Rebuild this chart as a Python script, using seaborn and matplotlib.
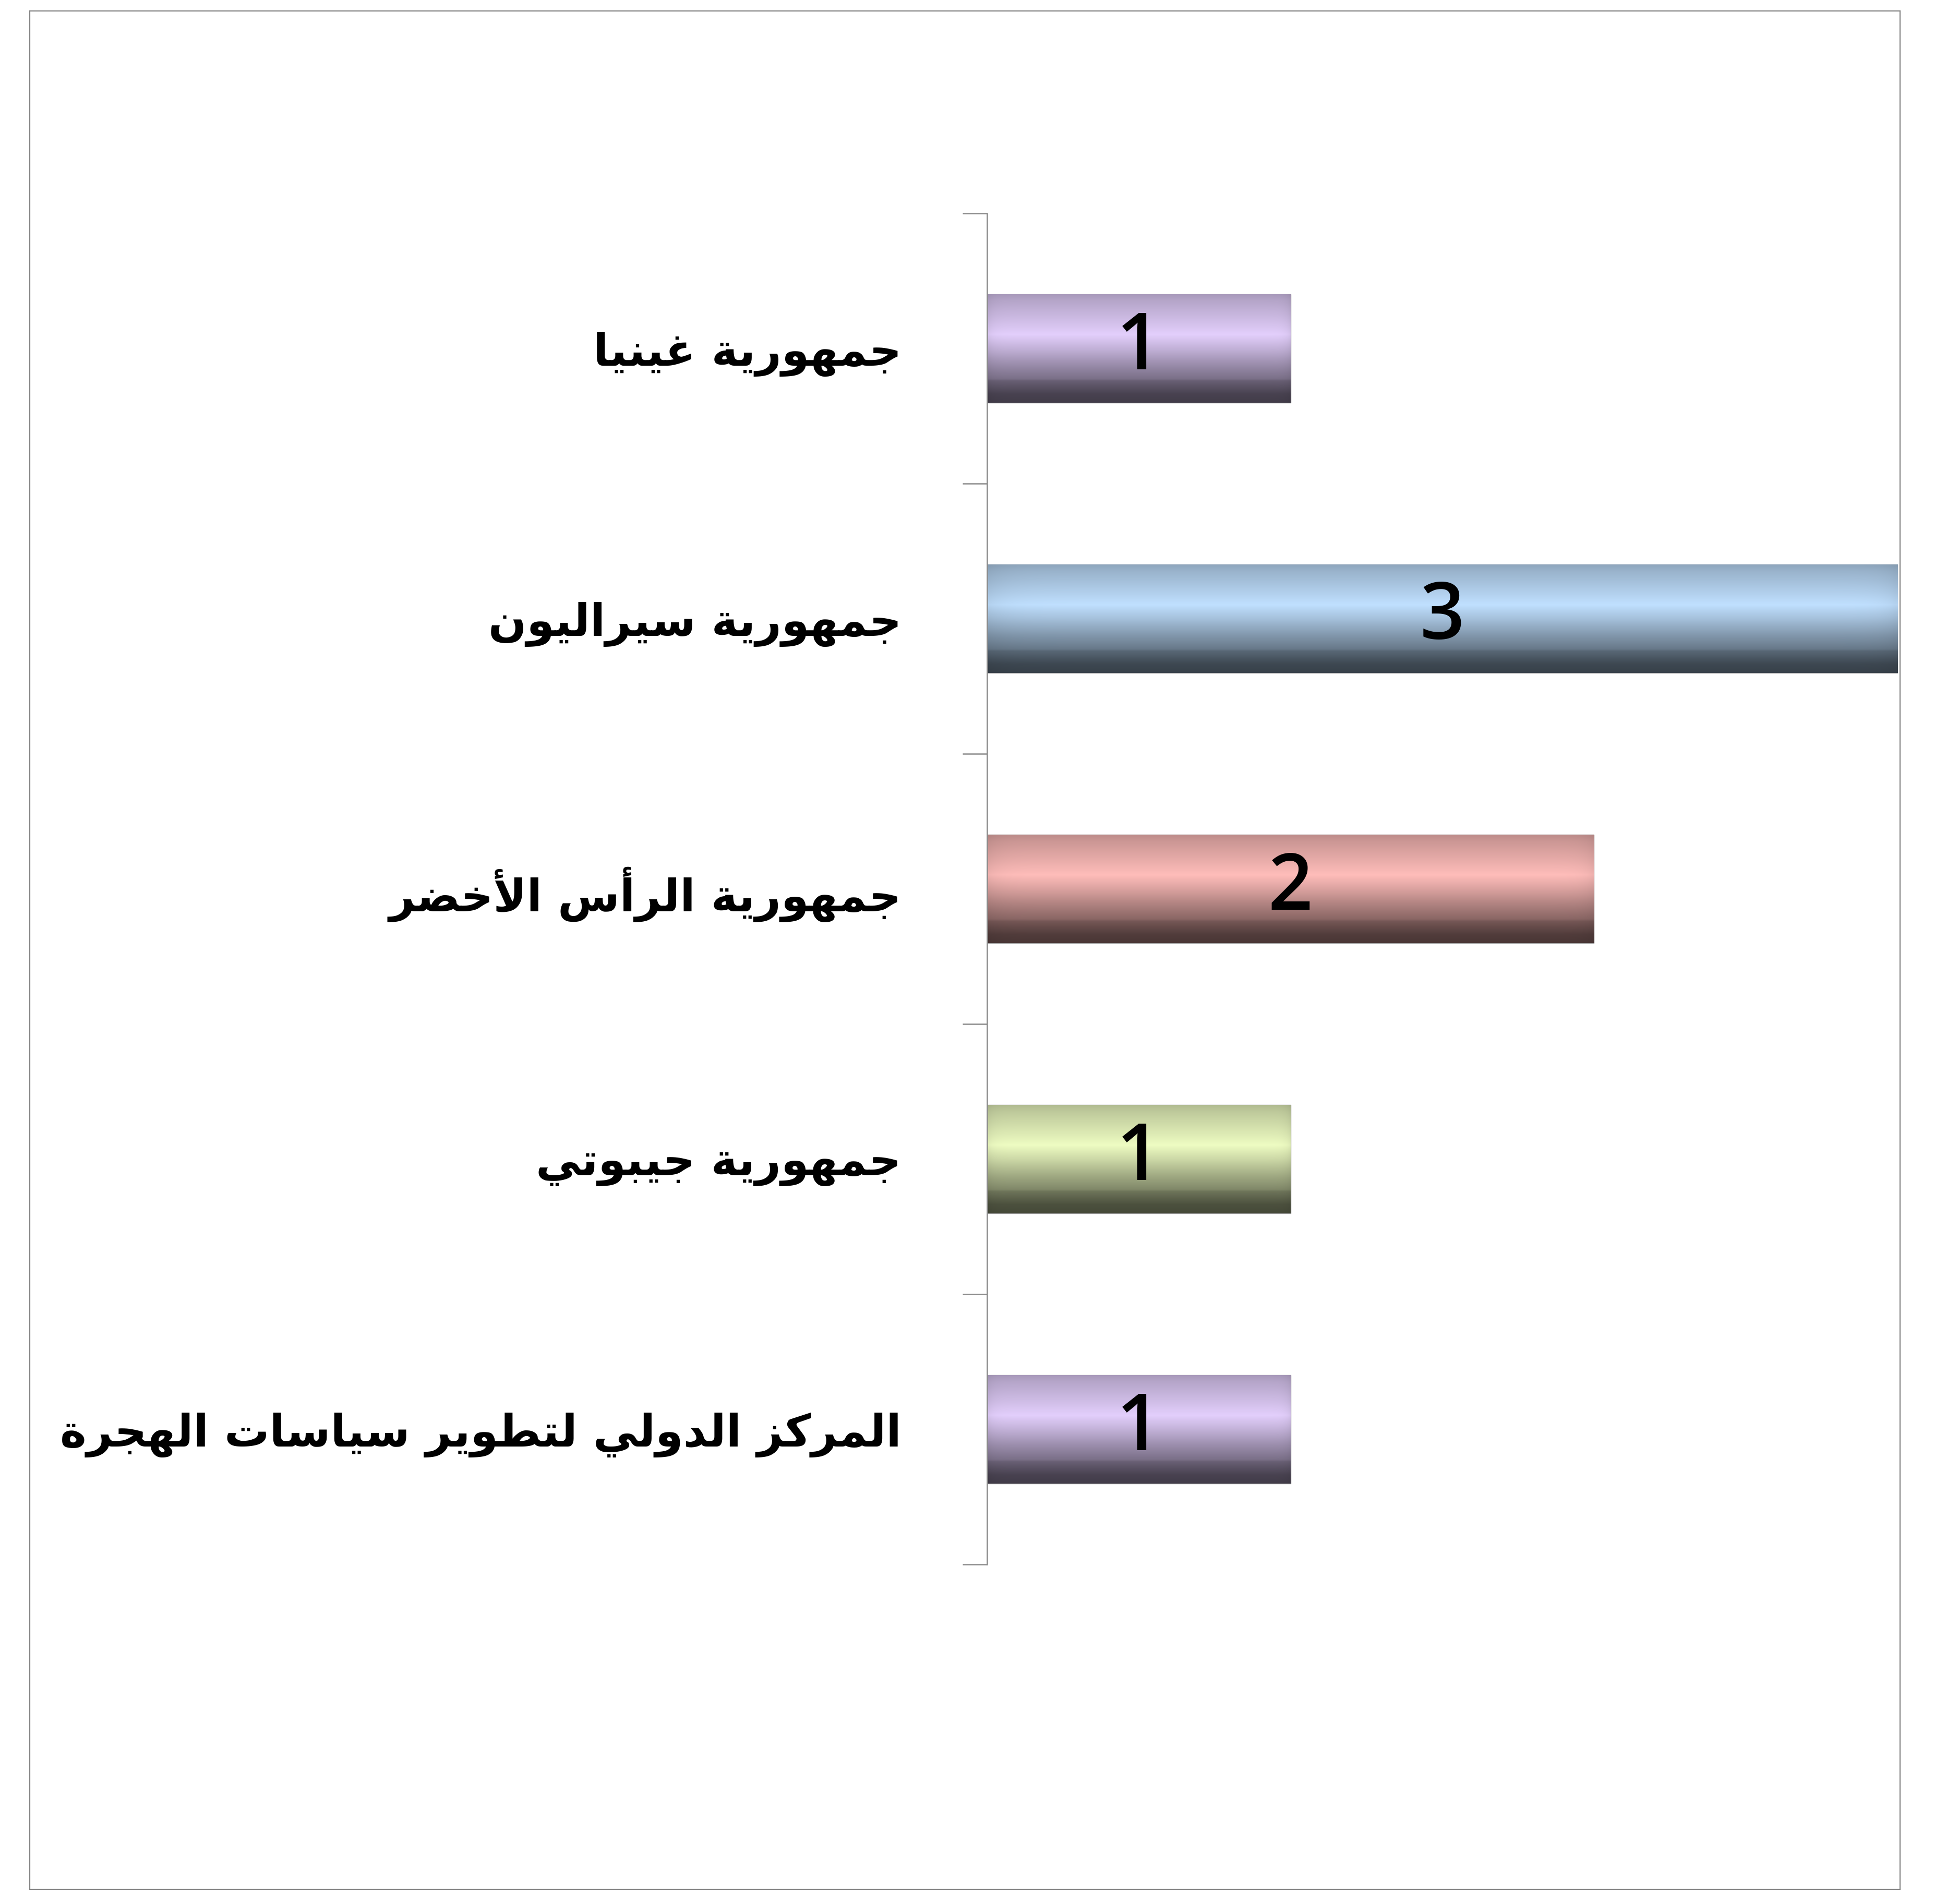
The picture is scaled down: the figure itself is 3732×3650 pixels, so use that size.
import numpy as np
import pandas as pd
import matplotlib
matplotlib.use("Agg")
import matplotlib.pyplot as plt
import seaborn as sns
from matplotlib.patches import Rectangle
from matplotlib.colors import to_rgb

# ---- data -------------------------------------------------------------
categories = [
    "جمهورية غينيا",
    "جمهورية سيراليون",
    "جمهورية الرأس الأخضر",
    "جمهورية جيبوتي",
    "المركز الدولي لتطوير سياسات الهجرة",
]
values = [1, 3, 2, 1, 1]
# highlight colour of each bar's glossy band
bar_colors = ["#E3CFFC", "#C0E0FF", "#FFBDBA", "#EEFCC2", "#E3CFFC"]

# ---- minimal Arabic shaping (presentation forms + RTL order) -----------
FORMS = {
    "\u0621": ("\uFE80",),
    "\u0622": ("\uFE81", "\uFE82"),
    "\u0623": ("\uFE83", "\uFE84"),
    "\u0624": ("\uFE85", "\uFE86"),
    "\u0625": ("\uFE87", "\uFE88"),
    "\u0626": ("\uFE89", "\uFE8A", "\uFE8B", "\uFE8C"),
    "\u0627": ("\uFE8D", "\uFE8E"),
    "\u0628": ("\uFE8F", "\uFE90", "\uFE91", "\uFE92"),
    "\u0629": ("\uFE93", "\uFE94"),
    "\u062A": ("\uFE95", "\uFE96", "\uFE97", "\uFE98"),
    "\u062B": ("\uFE99", "\uFE9A", "\uFE9B", "\uFE9C"),
    "\u062C": ("\uFE9D", "\uFE9E", "\uFE9F", "\uFEA0"),
    "\u062D": ("\uFEA1", "\uFEA2", "\uFEA3", "\uFEA4"),
    "\u062E": ("\uFEA5", "\uFEA6", "\uFEA7", "\uFEA8"),
    "\u062F": ("\uFEA9", "\uFEAA"),
    "\u0630": ("\uFEAB", "\uFEAC"),
    "\u0631": ("\uFEAD", "\uFEAE"),
    "\u0632": ("\uFEAF", "\uFEB0"),
    "\u0633": ("\uFEB1", "\uFEB2", "\uFEB3", "\uFEB4"),
    "\u0634": ("\uFEB5", "\uFEB6", "\uFEB7", "\uFEB8"),
    "\u0635": ("\uFEB9", "\uFEBA", "\uFEBB", "\uFEBC"),
    "\u0636": ("\uFEBD", "\uFEBE", "\uFEBF", "\uFEC0"),
    "\u0637": ("\uFEC1", "\uFEC2", "\uFEC3", "\uFEC4"),
    "\u0638": ("\uFEC5", "\uFEC6", "\uFEC7", "\uFEC8"),
    "\u0639": ("\uFEC9", "\uFECA", "\uFECB", "\uFECC"),
    "\u063A": ("\uFECD", "\uFECE", "\uFECF", "\uFED0"),
    "\u0641": ("\uFED1", "\uFED2", "\uFED3", "\uFED4"),
    "\u0642": ("\uFED5", "\uFED6", "\uFED7", "\uFED8"),
    "\u0643": ("\uFED9", "\uFEDA", "\uFEDB", "\uFEDC"),
    "\u0644": ("\uFEDD", "\uFEDE", "\uFEDF", "\uFEE0"),
    "\u0645": ("\uFEE1", "\uFEE2", "\uFEE3", "\uFEE4"),
    "\u0646": ("\uFEE5", "\uFEE6", "\uFEE7", "\uFEE8"),
    "\u0647": ("\uFEE9", "\uFEEA", "\uFEEB", "\uFEEC"),
    "\u0648": ("\uFEED", "\uFEEE"),
    "\u0649": ("\uFEEF", "\uFEF0"),
    "\u064A": ("\uFEF1", "\uFEF2", "\uFEF3", "\uFEF4"),
}
LAM_ALEF = {
    "\u0622": ("\uFEF5", "\uFEF6"),
    "\u0623": ("\uFEF7", "\uFEF8"),
    "\u0625": ("\uFEF9", "\uFEFA"),
    "\u0627": ("\uFEFB", "\uFEFC"),
}


def shape_arabic(text):
    # merge lam + alef into one unit first
    units = []
    i = 0
    while i < len(text):
        c = text[i]
        if c == "\u0644" and i + 1 < len(text) and text[i + 1] in LAM_ALEF:
            units.append(("LA", text[i + 1]))
            i += 2
        else:
            units.append(("C", c))
            i += 1

    def joins(u):
        return u[0] == "LA" or u[1] in FORMS

    def dual(u):
        return u[0] == "C" and u[1] in FORMS and len(FORMS[u[1]]) == 4

    out = []
    for k, u in enumerate(units):
        prev_u = units[k - 1] if k > 0 else None
        next_u = units[k + 1] if k + 1 < len(units) else None
        from_prev = prev_u is not None and dual(prev_u)
        if u[0] == "LA":
            forms = LAM_ALEF[u[1]]
            out.append(forms[1] if from_prev else forms[0])
            continue
        c = u[1]
        if c not in FORMS:
            out.append(c)
            continue
        forms = FORMS[c]
        to_next = len(forms) == 4 and next_u is not None and joins(next_u)
        if len(forms) == 1:
            out.append(forms[0])
        elif len(forms) == 2:
            out.append(forms[1] if from_prev else forms[0])
        else:
            if from_prev and to_next:
                out.append(forms[3])
            elif to_next:
                out.append(forms[2])
            elif from_prev:
                out.append(forms[1])
            else:
                out.append(forms[0])
    return "".join(out)[::-1]


shaped_labels = [shape_arabic(c) for c in categories]

# ---- figure -----------------------------------------------------------
W, H, DPI = 3732, 3650, 100
sns.set_style("white")
plt.rcParams["font.family"] = ["DejaVu Sans"]
fig = plt.figure(figsize=(W / DPI, H / DPI), dpi=DPI)
fig.patch.set_facecolor("white")

ax_left, ax_right = 1892 / W, 3642 / W
ax_top, ax_bottom = 1 - 409 / H, 1 - 2999 / H
ax = fig.add_axes([ax_left, ax_bottom, ax_right - ax_left, ax_top - ax_bottom])

df = pd.DataFrame({"category": categories, "value": values})
sns.barplot(data=df, x="value", y="category", hue="category",
            palette=bar_colors, legend=False, width=0.4, orient="h",
            edgecolor="#9a9a9a", linewidth=1.0, saturation=1, ax=ax)

unit_px = (3637 - 1892) / 3.0
ax.set_xlim(0, (3642 - 1892) / unit_px)
ax.set_ylim(len(categories) - 0.5, -0.5)

# glossy gradient inside each bar
stops_t = np.array([0.0, 0.06, 0.25, 0.37, 0.50, 0.65, 0.78, 0.80, 0.92, 1.0])
stops_f = np.array([0.74, 0.80, 0.92, 1.00, 0.86, 0.68, 0.54, 0.46, 0.32, 0.29])
t = np.linspace(0, 1, 256)
profile = np.interp(t, stops_t, stops_f)
xs = np.linspace(0, 1, 200)
edge = 1 - 0.06 * (np.exp(-xs / 0.02) + np.exp(-(1 - xs) / 0.015))

for patch, col in zip(ax.patches, bar_colors):
    x0, y0 = patch.get_x(), patch.get_y()
    w, h = patch.get_width(), patch.get_height()
    rgb = np.array(to_rgb(col))
    img = profile[:, None, None] * edge[None, :, None] * rgb[None, None, :]
    img = np.clip(img, 0, 1)
    im = ax.imshow(img, extent=(x0, x0 + w, y0 + h, y0), origin="upper",
                   aspect="auto", interpolation="bilinear", zorder=patch.get_zorder() + 0.1)
    im.set_clip_path(patch)

# value labels at the centre of each bar
for i, v in enumerate(values):
    ax.text(v / 2, i, str(v), ha="center", va="center", fontsize=108,
            fontweight="semibold", family=["Open Sans", "DejaVu Sans"],
            color="black", zorder=10)

# axis styling
for side in ["top", "right", "bottom"]:
    ax.spines[side].set_visible(False)
ax.spines["left"].set_color("#8c8c8c")
ax.spines["left"].set_linewidth(1.8)
ax.set_xticks([])
ax.set_xlabel("")
ax.set_ylabel("")
ax.set_yticks(range(len(categories)))
ax.set_yticklabels(shaped_labels, fontsize=62, fontweight="bold",
                   family=["DejaVu Sans"], color="black")
ax.set_yticks(np.arange(-0.5, len(categories)), minor=True)
ax.tick_params(axis="y", which="major", left=False, length=0,
               pad=(1892 - 1728) * 72 / DPI)
ax.tick_params(axis="y", which="minor", left=True, length=47 * 72 / DPI,
               width=1.8, color="#8c8c8c", direction="out")
ax.grid(False)
ax.set_facecolor("none")

# outer chart border
fig.patches.append(Rectangle((57 / W, 1 - 3622 / H), (3642 - 57) / W, (3622 - 21) / H,
                             transform=fig.transFigure, fill=False,
                             edgecolor="#868686", linewidth=1.6))

fig.savefig("out.png", dpi=DPI, facecolor="white")
